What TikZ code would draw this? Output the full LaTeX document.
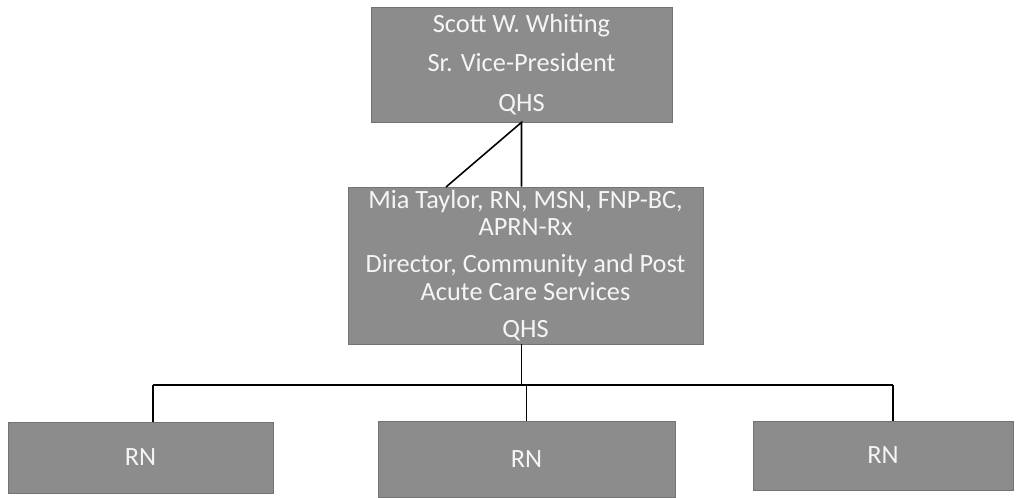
\documentclass[tikz,border=0pt]{standalone}
\usepackage{fontspec}
\setmainfont{Carlito}
\definecolor{boxgray}{RGB}{140,140,140}
\definecolor{boxedge}{RGB}{115,115,115}
\definecolor{boxtext}{RGB}{245,245,245}
\begin{document}
\begin{tikzpicture}[x=0.02cm, y=-0.02cm, auto,
		box/.style={draw=boxedge, fill=boxgray, text=boxtext, align=center, inner sep=0pt,
			font=\fontsize{15}{15.5}\selectfont},
		link/.style={draw=black, line width=0.9pt}]
				\useasboundingbox (0,0) rectangle (1021,497);
				\node (vp) at (521.5, 64.5) [box, minimum width=6.02cm, minimum height=2.3cm]
					{Scott W. Whiting\\[0.24cm]Sr. Vice-President\\[0.24cm]QHS};
				\node (dir) at (525.5, 265.5) [box, minimum width=7.1cm, minimum height=3.14cm]
					{Mia Taylor, RN, MSN, FNP-BC,\\APRN-Rx\\[0.2cm]Director, Community and Post\\Acute Care Services\\[0.2cm]QHS};
				\node (rnA) at (140.5, 457.5) [box, minimum width=5.3cm, minimum height=1.42cm] {RN};
				\node (rnB) at (526.5, 459) [box, minimum width=5.94cm, minimum height=1.52cm] {RN};
				\node (rnC) at (883, 455.5) [box, minimum width=5.2cm, minimum height=1.38cm] {RN};
				\coordinate (kink) at (446, 187);
				\coordinate (busL) at (153, 385);
				\coordinate (busR) at (893, 385);
				\draw[link] (kink) -- (vp.south) -- (vp.south |- dir.north);
				\draw[link] (dir.south -| vp.south) -- (vp.south |- busL);
				\draw[link] (busL) -- (busR);
				\draw[link] (busL) -- (busL |- rnA.north);
				\draw[link] (rnB.north |- busL) -- (rnB.north);
				\draw[link] (busR) -- (busR |- rnC.north);
			\end{tikzpicture}
\end{document}
